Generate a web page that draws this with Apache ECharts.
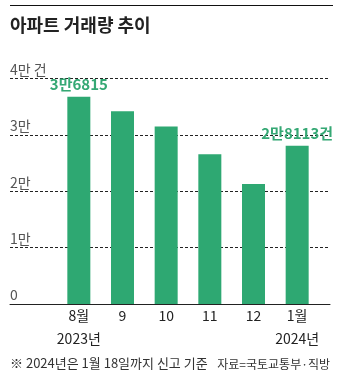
<!DOCTYPE html>
<html><head><meta charset="utf-8">
<script src="https://cdn.jsdelivr.net/npm/echarts@6/dist/echarts.min.js"></script>
<style>html,body{margin:0;padding:0;background:#fff}#c{width:344px;height:385px}</style>
</head><body><div id="c"></div>
<script>
var categories = ['8월\n2023년', '9', '10', '11', '12', '1월\n2024년'];
var values = [36815, 34200, 31500, 26600, 21300, 28113];
var valueLabels = ['3만6815', '', '', '', '', '2만8113건'];
var yTicks = {0: '0', 10000: '1만', 20000: '2만', 30000: '3만', 40000: '4만 건'};
var FONT = "'Liberation Sans Narrow','Noto Sans CJK KR',sans-serif";
var GREEN = '#2ea872';
var chart = echarts.init(document.getElementById('c'), null, {renderer: 'canvas'});
var gTop = 78.7, gBottom = 81;
chart.setOption({
  animation: false,
  graphic: {elements: [
    {type: 'line', z: 100, shape: {x1: 10, y1: 5.5, x2: 333, y2: 5.5}, style: {stroke: '#111', lineWidth: 1.2}},
    {type: 'text', left: 10, top: 16, style: {text: '아파트 거래량 추이', font: "bold 18px 'Noto Sans CJK KR'", fill: '#222'}},
    {type: 'text', left: 10, top: 357, style: {text: '※ 2024년은 1월 18일까지 신고 기준', font: "13px " + FONT, fill: '#333'}},
    {type: 'text', right: 14, top: 358, style: {text: '자료=국토교통부·직방', font: "12px " + FONT, fill: '#333'}}
  ]},
  grid: [
    {left: 10, right: 14, top: gTop, bottom: gBottom},
    {left: 57, width: 262, top: gTop, bottom: gBottom}
  ],
  xAxis: [
    {gridIndex: 0, type: 'category', data: [''], axisLine: {show: true, lineStyle: {color: '#222', width: 1}}, axisTick: {show: false}, axisLabel: {show: false}},
    {gridIndex: 1, type: 'category', data: categories, axisLine: {show: false}, axisTick: {show: false},
      axisLabel: {interval: 0, margin: 0, color: '#222', fontSize: 14, fontFamily: FONT, lineHeight: 23}}
  ],
  yAxis: [
    {gridIndex: 0, type: 'value', min: 0, max: 40000, interval: 10000,
      axisLine: {show: false}, axisTick: {show: false},
      splitLine: {show: true, lineStyle: {color: '#222', type: [3, 2], width: 1}},
      axisLabel: {inside: true, margin: 0, align: 'left', verticalAlign: 'bottom', padding: [0, 0, 2, 0],
        color: '#555', fontSize: 14, fontFamily: FONT,
        formatter: function (v) { return yTicks[v]; }}},
    {gridIndex: 1, type: 'value', min: 0, max: 40000, interval: 10000, show: false, splitLine: {show: false}}
  ],
  series: [{
    type: 'bar', xAxisIndex: 1, yAxisIndex: 1, data: values, barWidth: 23,
    itemStyle: {color: GREEN},
    label: {show: true, position: 'top', distance: 5, color: '#35a874', fontSize: 15, fontWeight: 'bold', fontFamily: FONT,
      formatter: function (p) { return valueLabels[p.dataIndex]; }}
  }]
});
</script></body></html>
